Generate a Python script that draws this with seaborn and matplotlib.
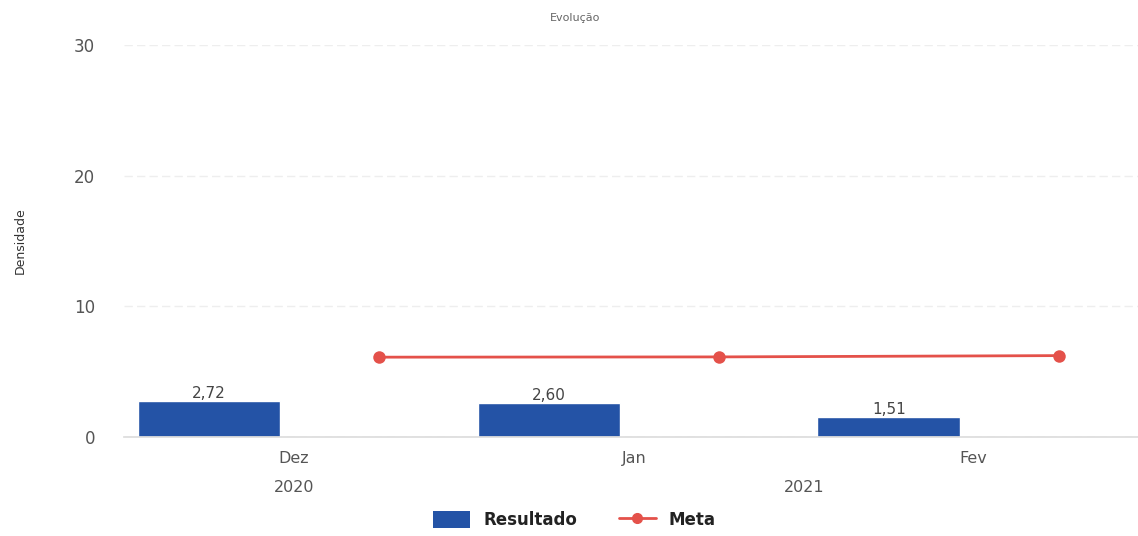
import numpy as np
import pandas as pd
import seaborn as sns
import matplotlib.pyplot as plt
from matplotlib.patches import Patch
from matplotlib.lines import Line2D

# valores
meses = ["Dez", "Jan", "Fev"]
anos = ["2020", "2021"]
anos_pos = [0, 1.5]
resultado = [2.72, 2.60, 1.51]
meta = [6.10, 6.12, 6.22]
rotulos = ["2,72", "2,60", "1,51"]

AZUL = "#2453A6"
VERMELHO = "#E4514A"

sns.set_theme(style="white")
plt.rcParams["font.family"] = ["DejaVu Sans"]

idx = np.arange(len(meses))
df = pd.DataFrame({"pos_bar": idx - 0.25, "pos_meta": idx + 0.25,
                   "Resultado": resultado, "Meta": meta})

fig, ax = plt.subplots(figsize=(11.38, 5.36), dpi=100)
fig.subplots_adjust(left=0.109, right=1.005, bottom=0.185, top=0.916)

sns.barplot(data=df, x="pos_bar", y="Resultado", native_scale=True, width=0.42,
            color=AZUL, saturation=1, ax=ax)
sns.lineplot(data=df, x="pos_meta", y="Meta", color=VERMELHO, linewidth=2,
             marker="o", markersize=9, markeredgewidth=0, ax=ax)

ax.bar_label(ax.containers[0], labels=rotulos, padding=0, fontsize=11, color="#444")

ax.set_xlim(-0.5, 2.5)
ax.set_ylim(0, 30)
ax.set_yticks([0, 10, 20, 30])
ax.tick_params(axis="y", labelsize=12, labelcolor="#555", length=0, pad=21)
ax.set_xticks(idx)
ax.set_xticklabels(meses)
ax.set_xticks([-0.5, 0.5, 1.5], minor=True)
ax.tick_params(axis="x", which="major", length=0, labelsize=11.5, labelcolor="#555", pad=10)
ax.tick_params(axis="x", which="minor", length=6, color="#cccccc", width=1)
ax.grid(axis="y", color="#eeeeee", linestyle=(0, (6, 3)), linewidth=1)
ax.set_axisbelow(True)

for s in ["top", "right", "left"]:
    ax.spines[s].set_visible(False)
ax.spines["bottom"].set_color("#dddddd")

ax.set_xlabel("")
ax.set_ylabel("Densidade", fontsize=9, color="#333")
ax.yaxis.set_label_coords(-0.095, 0.5)

# rótulos de ano (eixo hierárquico)
for a, p in zip(anos, anos_pos):
    ax.text(p, -0.13, a, transform=ax.get_xaxis_transform(), ha="center", va="center",
            fontsize=11.5, color="#555")

fig.text(0.505, 0.966, "Evolução", ha="center", va="center", fontsize=8, color="#666")

handles = [Patch(facecolor=AZUL, edgecolor="none"),
           Line2D([0], [0], color=VERMELHO, lw=2, marker="o", markersize=7)]
fig.legend(handles, ["Resultado", "Meta"], loc="center", bbox_to_anchor=(0.505, 0.03),
           ncol=2, frameon=False, prop={"weight": "bold", "size": 12},
           handlelength=2.2, handleheight=1.2, columnspacing=2.5, labelcolor="#222")

fig.savefig("out.png", dpi=100)
